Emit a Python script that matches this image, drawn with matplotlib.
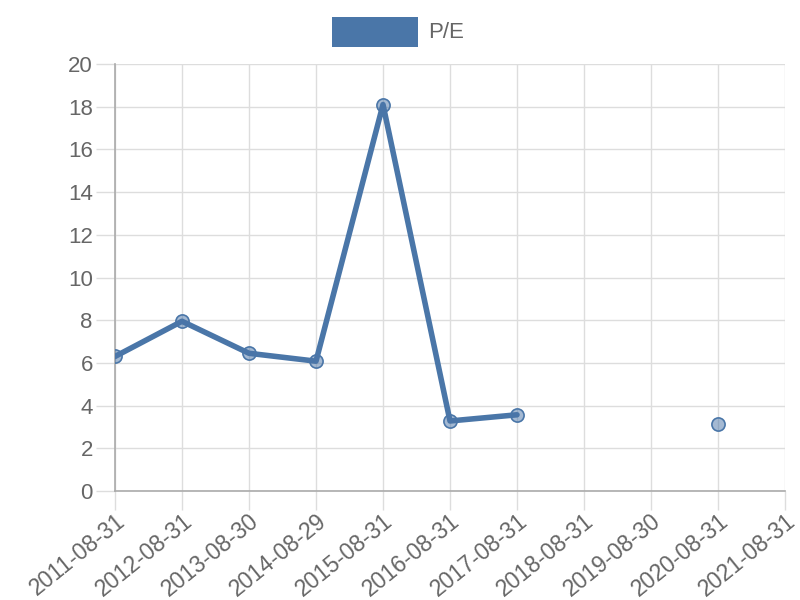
import numpy as np
import matplotlib
matplotlib.use('Agg')
import matplotlib.pyplot as plt
from matplotlib.patches import Rectangle

dates = ['2011-08-31', '2012-08-31', '2013-08-30', '2014-08-29', '2015-08-31',
         '2016-08-31', '2017-08-31', '2018-08-31', '2019-08-30', '2020-08-31',
         '2021-08-31']
pe = [6.3, 7.95, 6.45, 6.08, 18.1, 3.28, 3.57, np.nan, np.nan, 3.14, np.nan]
series_name = 'P/E'

line_color = '#4a76a8'
text_color = '#666666'
grid_color = '#dddddd'

plt.rcParams['font.family'] = ['Liberation Sans', 'DejaVu Sans']

fig = plt.figure(figsize=(8, 6), dpi=100)
ax = fig.add_axes([115 / 800, 1 - 491 / 600, 670 / 800, 427 / 600])

x = np.arange(len(dates))
y = np.array(pe, dtype=float)
ax.plot(x, y, color=line_color, lw=4, solid_capstyle='round', zorder=3)
ax.scatter(x, y, s=90, facecolor=(0.29, 0.46, 0.66, 0.5),
           edgecolor=line_color, linewidth=1.2, zorder=4)

ax.set_xlim(0, len(dates) - 1)
ax.set_ylim(0, 20)
ax.set_yticks(range(0, 21, 2))
ax.set_xticks(x)
ax.set_xticklabels(dates, rotation=39, ha='right', rotation_mode='anchor')

ax.grid(True, color=grid_color, lw=1)
ax.set_axisbelow(True)
for side in ['top', 'right']:
    ax.spines[side].set_visible(False)
for side in ['left', 'bottom']:
    ax.spines[side].set_color('#aaaaaa')
    ax.spines[side].set_linewidth(1.2)
ax.tick_params(axis='both', colors=grid_color, labelcolor=text_color,
               labelsize=16, length=14, width=1)
ax.tick_params(axis='x', labelsize=16.5, pad=-1)
ax.tick_params(axis='y', pad=2)

# legend drawn like the reference
fig.patches.append(Rectangle((332 / 800, 1 - 47 / 600), 86 / 800, 30 / 600,
                             transform=fig.transFigure, facecolor=line_color,
                             edgecolor='none'))
fig.text(428 / 800, 1 - 32 / 600, series_name, color=text_color,
         fontsize=16, va='center', ha='left')

fig.savefig('out.png', dpi=100)
